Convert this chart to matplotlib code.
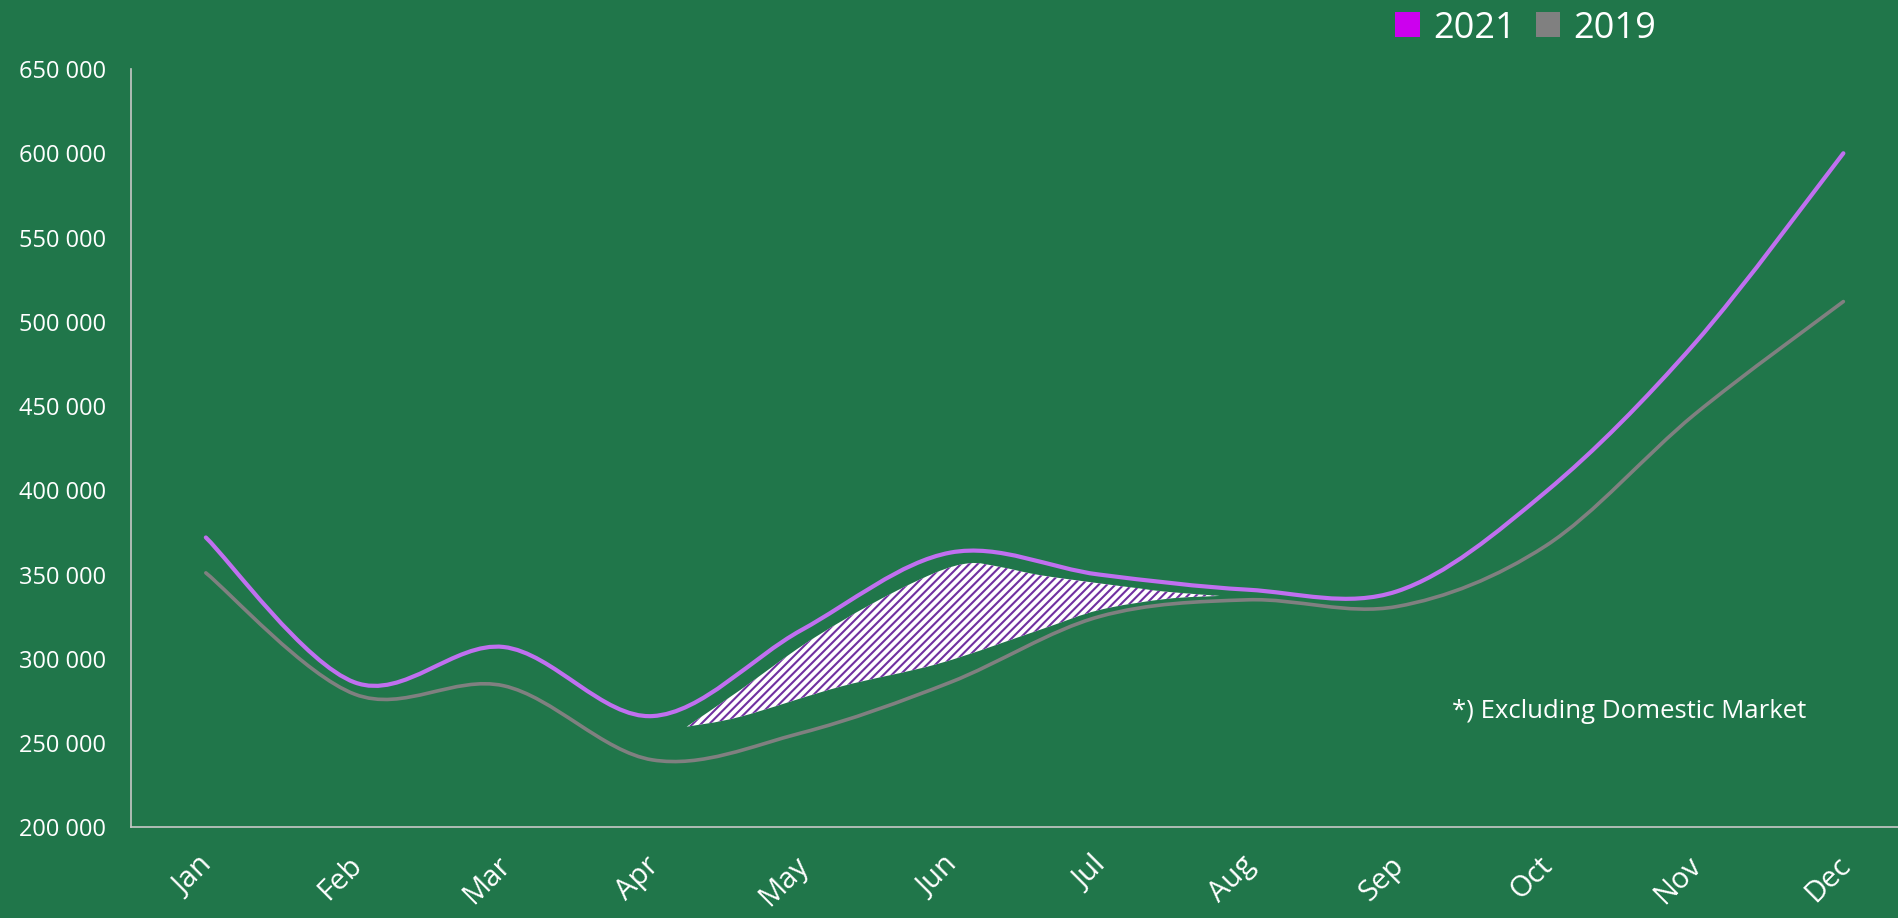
import numpy as np
import matplotlib
matplotlib.use("Agg")
import matplotlib.pyplot as plt
from matplotlib.path import Path
from matplotlib.patches import PathPatch, Patch
from matplotlib.ticker import FuncFormatter
from matplotlib.transforms import ScaledTranslation

plt.rcParams["font.family"] = ["Open Sans", "DejaVu Sans"]
plt.rcParams["hatch.linewidth"] = 1.5

months = ["Jan", "Feb", "Mar", "Apr", "May", "Jun",
          "Jul", "Aug", "Sep", "Oct", "Nov", "Dec"]
visitors_2021 = [372000, 286000, 307000, 266000, 317000, 363000,
                 350000, 341000, 340000, 399000, 487000, 600000]
visitors_2019 = [351000, 279000, 284000, 240000, 256000, 286000,
                 325000, 335000, 331000, 367000, 445000, 512000]

# hatched highlight between the two curves (outline)
hatch_top_x = [3.23, 3.59, 4.03, 4.48, 4.89, 5.13, 5.33, 5.60, 6.00, 6.27, 6.45, 6.81]
hatch_top = [259700, 281500, 309200, 332900, 350700, 356700,
             354600, 349700, 344800, 341800, 339800, 337300]
hatch_bottom_x = [3.23, 3.59, 4.26, 4.93, 5.60, 6.00, 6.45, 6.81]
hatch_bottom = [259700, 265600, 283400, 297300, 317100, 328900, 335500, 337300]

BG = "#20764A"
PURPLE = "#C070F0"
GREY = "#808080"


def smooth_segments(xs, ys):
    # Excel-like smoothed line: Catmull-Rom turned into cubic Bezier pieces
    pts = np.column_stack([xs, ys]).astype(float)
    n = len(pts)
    verts, codes = [], []
    for i in range(n - 1):
        p0 = pts[max(i - 1, 0)]
        p1 = pts[i]
        p2 = pts[i + 1]
        p3 = pts[min(i + 2, n - 1)]
        verts += [p1 + (p2 - p0) / 6, p2 - (p3 - p1) / 6, p2]
        codes += [Path.CURVE4] * 3
    return pts[0], verts, codes


def smooth_path(xs, ys):
    start, verts, codes = smooth_segments(xs, ys)
    return Path([start] + verts, [Path.MOVETO] + codes)


fig = plt.figure(figsize=(18.98, 9.18), dpi=100, facecolor=BG)
ax = fig.add_axes([131.4 / 1898, 90.7 / 918, 1 - 131.4 / 1898, 758.3 / 918])
ax.set_facecolor(BG)

x = np.arange(len(months))

# hatched area
start, top_v, top_c = smooth_segments(hatch_top_x, hatch_top)
_, bot_v, bot_c = smooth_segments(hatch_bottom_x[::-1], hatch_bottom[::-1])
area = Path([start] + top_v + bot_v + [start],
            [Path.MOVETO] + top_c + bot_c + [Path.CLOSEPOLY])
ax.add_patch(PathPatch(area, facecolor="white", edgecolor="#7030A0",
                       hatch="////", lw=0, zorder=2))

ax.add_patch(PathPatch(smooth_path(x, visitors_2019), facecolor="none",
                       edgecolor=GREY, lw=2.6, capstyle="round", zorder=3))
ax.add_patch(PathPatch(smooth_path(x, visitors_2021), facecolor="none",
                       edgecolor=PURPLE, lw=3, capstyle="round", zorder=4))

ax.set_xlim(-0.5, 11.367)
ax.set_ylim(200000, 650000)
ax.set_yticks(range(200000, 650001, 50000))
ax.yaxis.set_major_formatter(FuncFormatter(lambda v, p: f"{int(v):,}".replace(",", " ")))
ax.set_xticks(x)
ax.set_xticklabels(months, rotation=45, ha="right", va="top")
ax.tick_params(axis="y", length=0, pad=18.5, labelsize=17, colors="white")
ax.tick_params(axis="x", length=0, pad=17, labelsize=21, colors="white")
for lab in ax.get_xticklabels():
    lab.set_transform(lab.get_transform() + ScaledTranslation(0.13, 0, fig.dpi_scale_trans))

for side in ["top", "right"]:
    ax.spines[side].set_visible(False)
for side in ["left", "bottom"]:
    ax.spines[side].set_color("#C8C8C8")
    ax.spines[side].set_linewidth(1.2)

fig.text(1451.7 / 1898, 1 - 711.7 / 918, "*) Excluding Domestic Market",
         color="white", fontsize=18.5, va="center", ha="left")

handles = [Patch(facecolor="#CC00EE", edgecolor="none", label="2021"),
           Patch(facecolor=GREY, edgecolor="none", label="2019")]
fig.legend(handles=handles, loc="center left", ncol=2, frameon=False,
           bbox_to_anchor=(1395 / 1898, 1 - 28.5 / 918), borderpad=0,
           borderaxespad=0, fontsize=26, labelcolor="white",
           handlelength=0.69, handleheight=0.69, handletextpad=0.36,
           columnspacing=0.55)

fig.savefig("out.png", dpi=100, facecolor=BG)
